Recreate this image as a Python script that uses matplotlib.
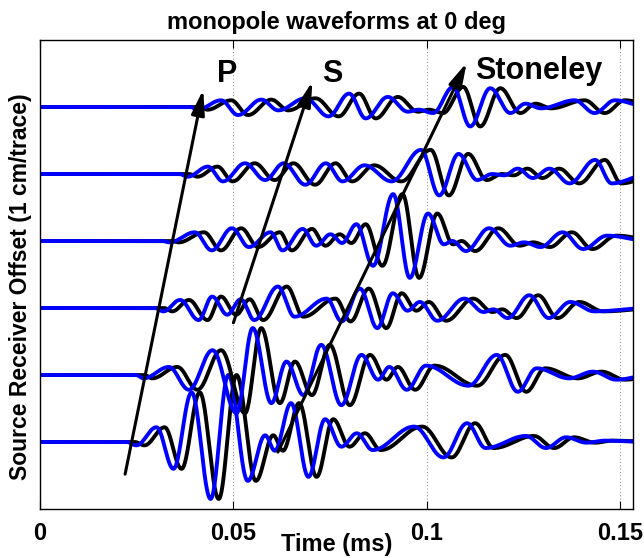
import numpy as np
import matplotlib
matplotlib.use("Agg")
import matplotlib.pyplot as plt

plt.rcParams['font.family'] = ['Liberation Sans', 'DejaVu Sans']
plt.rcParams['font.weight'] = 'bold'

# extrema of the black trace (time in ms, amplitude in trace units)
t1_times = [0.0, 0.0245, 0.0270, 0.0322, 0.0366, 0.0413, 0.0462, 0.0508, 0.0558, 0.0603, 0.0628,
            0.0670, 0.0715, 0.0758, 0.0800, 0.0840, 0.0881, 0.0988, 0.1064, 0.1125, 0.1173,
            0.1277, 0.1329, 0.1381, 0.1434, 0.1480, 0.1600]
t1_amps = [0.0, 0.0, -0.05, 0.22, -0.40, 0.74, -0.85, 1.00, -0.58, 0.10, -0.13,
           0.58, -0.52, 0.34, -0.07, 0.13, -0.12, 0.23, -0.23, 0.28, -0.09,
           0.09, -0.09, 0.07, -0.01, 0.02, 0.0]

t2_times = [0.0, 0.0270, 0.0290, 0.0355, 0.0407, 0.0468, 0.0530, 0.0572, 0.0620, 0.0659, 0.0703,
            0.0749, 0.0801, 0.0853, 0.0896, 0.0925, 0.0970, 0.1020, 0.1130, 0.1203, 0.1257,
            0.1306, 0.1390, 0.1452, 0.1512, 0.1600]
t2_amps = [0.0, 0.0, -0.05, 0.12, -0.22, 0.37, -0.57, 0.70, -0.42, 0.20, -0.30,
           0.45, -0.45, 0.30, -0.07, 0.12, -0.22, 0.14, -0.16, 0.30, -0.25,
           0.10, -0.05, 0.05, -0.07, 0.0]

t3_times = [0.0, 0.0320, 0.0342, 0.0385, 0.0433, 0.0468, 0.0507, 0.0542, 0.0577, 0.0638, 0.0681,
            0.0764, 0.0803, 0.0850, 0.0895, 0.0935, 0.0973, 0.1005, 0.1050, 0.1120, 0.1170,
            0.1195, 0.1232, 0.1288, 0.1338, 0.1394, 0.1456, 0.1600]
t3_amps = [0.0, 0.0, -0.05, 0.12, -0.18, 0.17, -0.10, 0.13, -0.18, 0.32, -0.13,
           0.14, -0.20, 0.29, -0.30, 0.22, -0.04, 0.09, -0.19, 0.14, -0.06,
           -0.02, -0.15, 0.19, -0.15, 0.09, -0.05, 0.0]

t4_times = [0.0, 0.0340, 0.0359, 0.0424, 0.0468, 0.0520, 0.0564, 0.0620, 0.0651, 0.0703, 0.0738,
            0.0775, 0.0805, 0.0842, 0.0885, 0.0937, 0.0980, 0.1027, 0.1068, 0.1090, 0.1125,
            0.1185, 0.1240, 0.1275, 0.1318, 0.1375, 0.1428, 0.1490, 0.1600]
t4_amps = [0.0, 0.0, -0.02, 0.13, -0.14, 0.19, -0.09, 0.13, -0.14, 0.18, -0.07,
           0.10, -0.03, 0.25, -0.37, 0.70, -0.55, 0.41, -0.05, 0.0, -0.15,
           0.19, -0.07, -0.02, -0.09, 0.13, -0.12, 0.08, 0.0]

t5_times = [0.0, 0.0385, 0.0407, 0.0459, 0.0498, 0.0555, 0.0607, 0.0655, 0.0711, 0.0764, 0.0807,
            0.0864, 0.0934, 0.1010, 0.1057, 0.1107, 0.1155, 0.1194, 0.1225, 0.1260, 0.1299,
            0.1342, 0.1394, 0.1460, 0.1503, 0.1600]
t5_amps = [0.0, 0.0, -0.04, 0.11, -0.11, 0.16, -0.09, 0.16, -0.16, 0.16, -0.11,
           0.13, -0.11, 0.36, -0.32, 0.30, -0.09, 0.0, -0.02, 0.08, -0.06,
           0.08, -0.14, 0.21, -0.14, 0.0]

t6_times = [0.0, 0.0415, 0.0433, 0.0494, 0.0538, 0.0598, 0.0642, 0.0712, 0.0772, 0.0825, 0.0868,
            0.0925, 0.0977, 0.1005, 0.1042, 0.1094, 0.1138, 0.1190, 0.1242, 0.1281, 0.1321,
            0.1408, 0.1460, 0.1512, 0.1600]
t6_amps = [0.0, 0.0, -0.04, 0.10, -0.12, 0.11, -0.05, 0.13, -0.14, 0.20, -0.17,
           0.15, -0.07, -0.04, -0.09, 0.30, -0.29, 0.28, -0.09, 0.05, -0.02,
           0.10, -0.09, 0.10, 0.0]

trace_times = [t1_times, t2_times, t3_times, t4_times, t5_times, t6_times]
trace_amps = [t1_amps, t2_amps, t3_amps, t4_amps, t5_amps, t6_amps]
offsets = [1, 2, 3, 4, 5, 6]
# the blue trace arrives a little earlier than the black one (ms)
blue_lead = [0.0021, 0.0022, 0.0023, 0.0024, 0.0025, 0.0026]

# arrows: (start time, start offset, tip time, tip offset)
arrow_names = ["P", "S", "Stoneley"]
arrow_start = [(0.0220, 0.52), (0.0500, 2.78), (0.0615, 0.85)]
arrow_tip = [(0.0422, 6.26), (0.0704, 6.38), (0.1103, 6.66)]
label_pos = [(0.0483, 6.37), (0.0756, 6.37), (0.1289, 6.42)]


def wiggle(t, times, amps):
    # smooth half-cosine steps between the read extrema
    times = np.asarray(times)
    amps = np.asarray(amps)
    i = np.clip(np.searchsorted(times, t, side="right") - 1, 0, len(times) - 2)
    s = (t - times[i]) / (times[i + 1] - times[i])
    s = np.clip(s, 0, 1)
    return amps[i] + (amps[i + 1] - amps[i]) * (1 - np.cos(np.pi * s)) / 2


fig = plt.figure(figsize=(6.44, 5.58), dpi=100)
ax = fig.add_axes([40 / 644, 49 / 558, 593 / 644, 469 / 558])

t = np.linspace(0, 0.1533, 3000)
for times, amps, off, lead in zip(trace_times, trace_amps, offsets, blue_lead):
    ax.plot(t, off + wiggle(t, times, amps), color="black", lw=2.8, solid_capstyle="round")
    ax.plot(t, off + wiggle(t + lead, times, amps), color="#0000ff", lw=2.8, solid_capstyle="round")

for name, st, tip, lp in zip(arrow_names, arrow_start, arrow_tip, label_pos):
    ax.annotate("", xy=tip, xytext=st,
                arrowprops=dict(arrowstyle="-|>,head_length=0.75,head_width=0.2",
                                color="black", lw=2.2, mutation_scale=20,
                                shrinkA=0, shrinkB=0))
    ax.text(lp[0], lp[1], name, fontsize=22, fontweight="bold", ha="center", va="baseline")

ax.set_xlim(0, 0.1533)
ax.set_ylim(0, 7)
ax.set_xticks([0, 0.05, 0.1, 0.15])
ax.set_xticklabels(["0", "0.05", "0.1", "0.15"])
ax.set_yticks([])
ax.tick_params(axis="x", direction="in", top=True, length=6, width=0.8, labelsize=17, pad=9)
ax.xaxis.grid(True, linestyle=(0, (1, 3)), color="#666666", lw=0.6)
for sp in ax.spines.values():
    sp.set_linewidth(1.0)

ax.set_title("monopole waveforms at 0 deg", fontsize=17, fontweight="bold", pad=8)
ax.set_xlabel("Time (ms)", fontsize=17, fontweight="bold", labelpad=-8)
ax.set_ylabel("Source Receiver Offset (1 cm/trace)", fontsize=16.5, fontweight="bold")
ax.yaxis.set_label_coords(-0.014, 0.475)

fig.savefig("out.png", dpi=100)
